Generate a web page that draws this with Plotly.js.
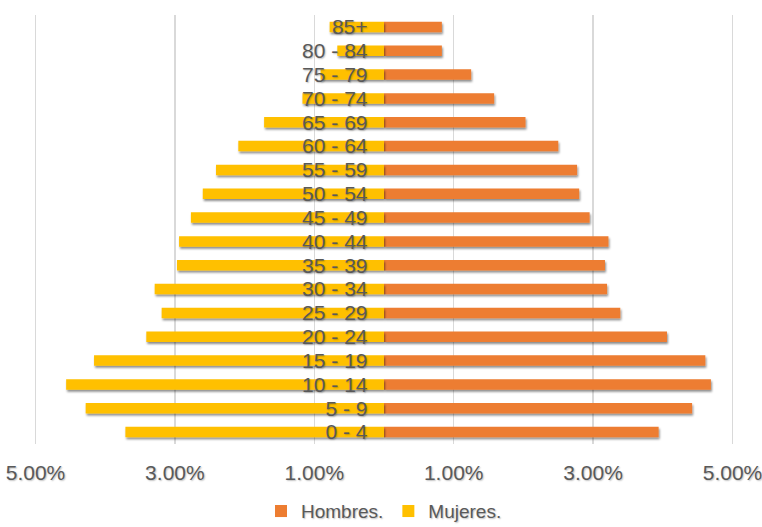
<!DOCTYPE html>
<html>
<head>
<meta charset="utf-8">
<script src="https://cdn.plot.ly/plotly-3.0.1.min.js"></script>
<style>
  html, body { margin: 0; padding: 0; background: #ffffff; }
  #chart { width: 762px; height: 527px; }
</style>
</head>
<body>
<div id="chart"></div>
<script>
// Age groups, bottom to top
const ageGroups = ["0 - 4", "5 - 9", "10 - 14", "15 - 19", "20 - 24", "25 - 29", "30 - 34",
  "35 - 39", "40 - 44", "45 - 49", "50 - 54", "55 - 59", "60 - 64", "65 - 69",
  "70 - 74", "75 - 79", "80 - 84", "85+"];
// Percent of population
const hombres = [3.94, 4.42, 4.69, 4.61, 4.06, 3.39, 3.20, 3.17, 3.22, 2.95, 2.80, 2.77,
  2.50, 2.03, 1.58, 1.25, 0.83, 0.83];
const mujeres = [3.71, 4.28, 4.56, 4.16, 3.41, 3.19, 3.29, 2.97, 2.94, 2.77, 2.60, 2.41,
  2.09, 1.72, 1.17, 0.91, 0.67, 0.78];
const xTickVals = [-5, -3, -1, 1, 3, 5];
const xTickText = ["5.00%", "3.00%", "1.00%", "1.00%", "3.00%", "5.00%"];

const FONT = '"Liberation Sans", Arial, sans-serif';
const GREY = '#595959';
const TSHADOW = '1px 1px 1.5px rgba(0,0,0,0.25)';

const traces = [
  {
    type: 'bar', orientation: 'h', name: 'Hombres.',
    y: ageGroups, x: hombres,
    marker: { color: '#ED7D31' }
  },
  {
    type: 'bar', orientation: 'h', name: 'Mujeres.',
    y: ageGroups, x: mujeres.map(v => -v),
    marker: { color: '#FFC000' }
  }
];

const layout = {
  width: 762, height: 527,
  margin: { l: 31.5, r: 25.5, t: 15, b: 83, autoexpand: false },
  paper_bgcolor: '#ffffff', plot_bgcolor: '#ffffff',
  barmode: 'overlay',
  bargap: 0.56,
  showlegend: true,
  legend: {
    orientation: 'h', x: 0.5, xanchor: 'center',
    yref: 'container', y: 0.03, yanchor: 'middle',
    font: { family: FONT, size: 19, color: GREY, shadow: TSHADOW },
    traceorder: 'normal', itemwidth: 30
  },
  xaxis: {
    range: [-5.05, 5.05],
    tickvals: xTickVals, ticktext: xTickText,
    showgrid: true, gridcolor: '#d9d9d9', gridwidth: 1.5,
    zeroline: false, showline: false, ticks: '',
    ticklabelstandoff: 14, ticklabeloverflow: 'allow',
    tickfont: { family: FONT, size: 21, color: GREY, shadow: TSHADOW },
    fixedrange: true
  },
  yaxis: {
    type: 'category',
    categoryorder: 'array', categoryarray: ageGroups,
    tickmode: 'linear', dtick: 1,
    range: [-0.5, 17.5],
    anchor: 'free', position: 352 / 705,
    showgrid: false, zeroline: false, showline: false, ticks: '',
    ticklabelstandoff: 16,
    tickfont: { family: FONT, size: 21, color: GREY, shadow: TSHADOW },
    fixedrange: true
  }
};

Plotly.newPlot('chart', traces, layout, { displayModeBar: false, staticPlot: true }).then(gd => {
  const svg = gd.querySelector('svg.main-svg');
  const NS = 'http://www.w3.org/2000/svg';
  const defs = document.createElementNS(NS, 'defs');
  const filter = document.createElementNS(NS, 'filter');
  filter.setAttribute('id', 'barshadow');
  filter.setAttribute('x', '-10%'); filter.setAttribute('y', '-50%');
  filter.setAttribute('width', '130%'); filter.setAttribute('height', '220%');
  const fe = document.createElementNS(NS, 'feDropShadow');
  fe.setAttribute('dx', '1'); fe.setAttribute('dy', '2');
  fe.setAttribute('stdDeviation', '1.2');
  fe.setAttribute('flood-color', '#000'); fe.setAttribute('flood-opacity', '0.45');
  filter.appendChild(fe); defs.appendChild(filter); svg.insertBefore(defs, svg.firstChild);
  gd.querySelectorAll('.trace.bars .point path').forEach(p => p.setAttribute('filter', 'url(#barshadow)'));
});
</script>
</body>
</html>
